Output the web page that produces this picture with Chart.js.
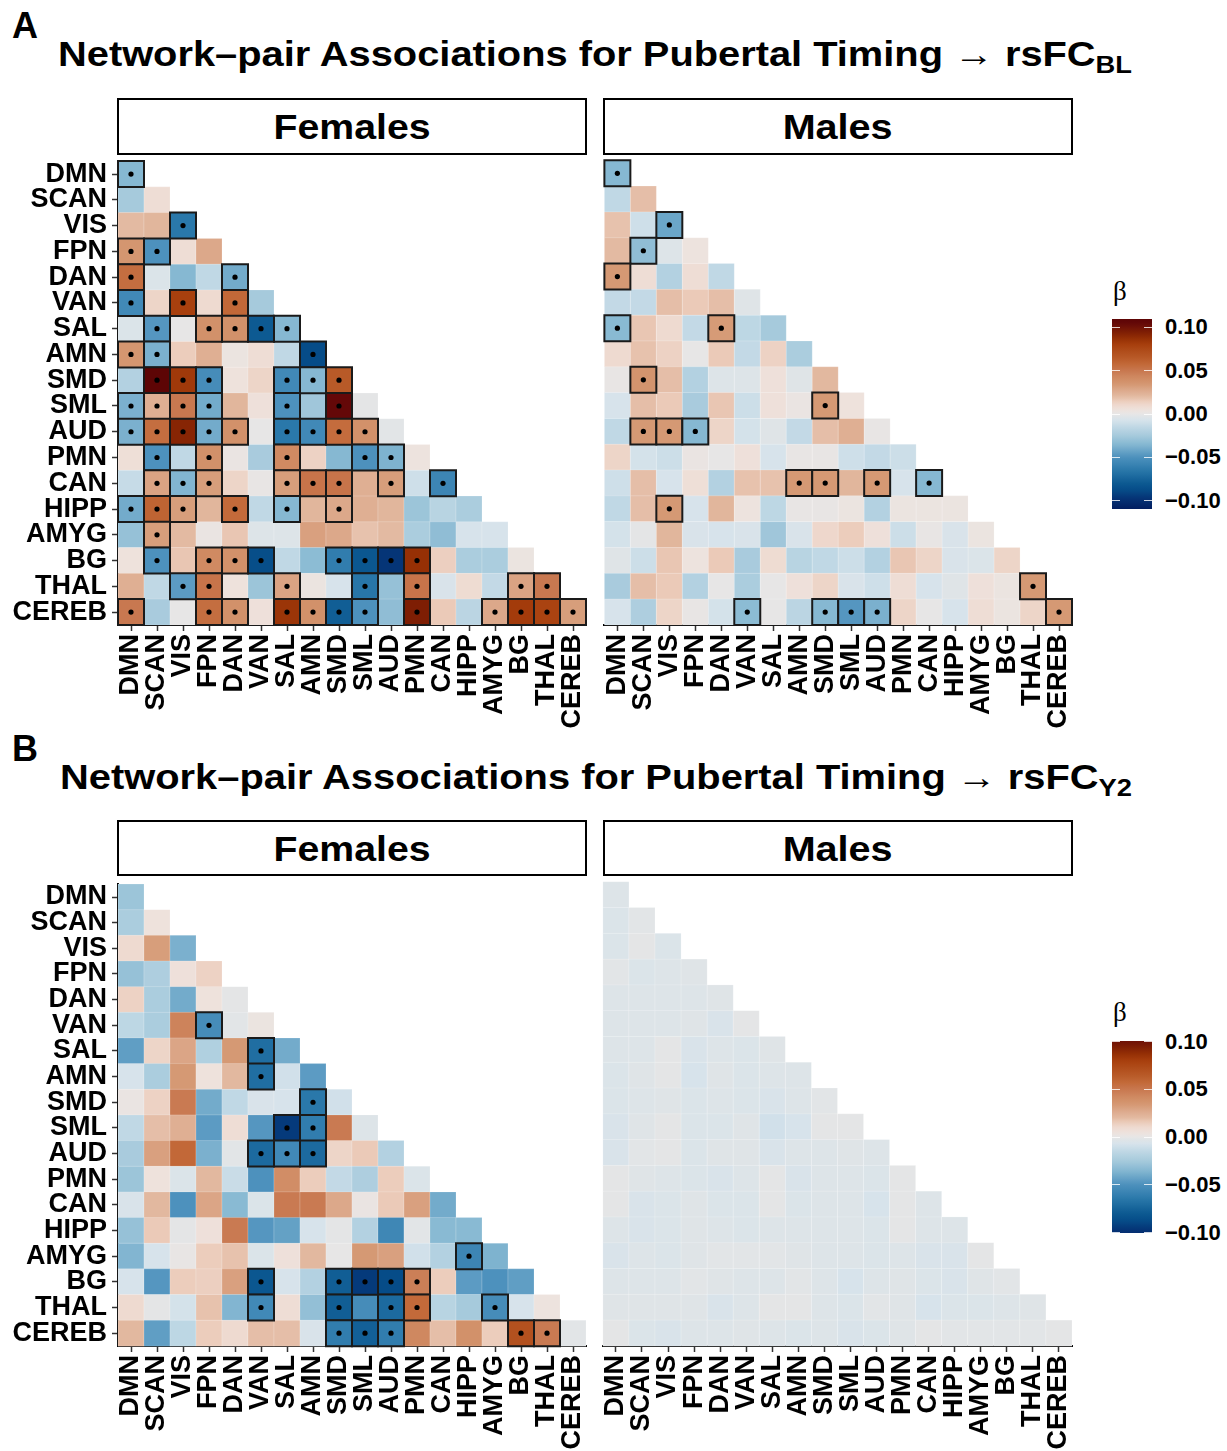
<!DOCTYPE html>
<html>
<head>
<meta charset="utf-8">
<script src="https://cdn.jsdelivr.net/npm/chart.js@4.4.0/dist/chart.umd.min.js"></script>
<style>
  body { margin: 0; width: 1227px; height: 1451px; position: relative; overflow: hidden; background: #fff;
         font-family: "Liberation Sans", Arial, sans-serif; color: #000; }
  .abs { position: absolute; white-space: nowrap; }
  .tag { font-weight: bold; font-size: 36px; line-height: 36px; }
  .title { font-weight: bold; font-size: 35px; line-height: 35px; transform-origin: left center; }
  .title sub { font-size: 24px; vertical-align: -7px; line-height: 0; }
  .strip { border: 2px solid #000; box-sizing: border-box; display: flex; align-items: center; justify-content: center; }
  .strip span { font-weight: bold; font-size: 35px; line-height: 35px; display: inline-block; }
  .beta { font-family: "Liberation Serif", "DejaVu Serif", serif; font-size: 27px; line-height: 26px; }
  .tick { font-weight: bold; font-size: 22px; line-height: 22px; }
  canvas { position: absolute; }
</style>
</head>
<body>
<div class="abs tag" style="left:12px;top:8px">A</div>
<div class="abs title" id="titleA" style="left:58px;top:36px">Network–pair Associations for Pubertal Timing → rsFC<sub>BL</sub></div>
<div class="abs strip" style="left:117px;top:98px;width:470px;height:57px"><span>Females</span></div>
<div class="abs strip" style="left:603px;top:98px;width:470px;height:57px"><span>Males</span></div>

<div class="abs tag" style="left:12px;top:731px">B</div>
<div class="abs title" id="titleB" style="left:60px;top:759px">Network–pair Associations for Pubertal Timing → rsFC<sub>Y2</sub></div>
<div class="abs strip" style="left:117px;top:820px;width:470px;height:56px"><span>Females</span></div>
<div class="abs strip" style="left:603px;top:820px;width:470px;height:56px"><span>Males</span></div>

<canvas id="femBL" width="610" height="600" style="left:0px;top:140px"></canvas>
<canvas id="malBL" width="512" height="600" style="left:584px;top:140px"></canvas>
<canvas id="femY2" width="610" height="588" style="left:0px;top:863px"></canvas>
<canvas id="malY2" width="512" height="588" style="left:584px;top:863px"></canvas>

<script>
const NETWORKS = ['DMN', 'SCAN', 'VIS', 'FPN', 'DAN', 'VAN', 'SAL', 'AMN', 'SMD', 'SML', 'AUD',
                  'PMN', 'CAN', 'HIPP', 'AMYG', 'BG', 'THAL', 'CEREB'];

// lower triangle, row i holds columns 0..i
const FEMALES_BL = [
  [-0.035],
  [-0.025, 0.008],
  [0.020, 0.022, -0.065],
  [0.035, -0.050, 0.008, 0.028],
  [0.055, -0.005, -0.035, -0.015, -0.040],
  [-0.055, 0.012, 0.080, 0.010, 0.058, -0.025],
  [-0.005, -0.048, 0.000, 0.038, 0.038, -0.080, -0.035],
  [0.035, -0.038, 0.015, 0.025, 0.003, 0.008, -0.015, -0.088],
  [-0.020, 0.110, 0.083, -0.053, 0.005, 0.012, -0.055, -0.035, 0.065],
  [-0.038, 0.025, 0.050, -0.040, 0.022, 0.006, -0.050, -0.027, 0.105, -0.001],
  [-0.038, 0.055, 0.092, -0.040, 0.038, 0.000, -0.065, -0.055, 0.056, 0.038, -0.002],
  [0.007, -0.050, -0.015, 0.038, 0.002, -0.024, 0.042, 0.013, -0.035, -0.050, -0.037, 0.004],
  [-0.013, 0.030, -0.036, 0.032, 0.012, 0.001, 0.032, 0.052, 0.052, 0.025, 0.032, -0.010, -0.057],
  [-0.040, 0.060, 0.032, 0.022, 0.057, -0.015, -0.035, 0.022, 0.028, 0.025, 0.022, -0.028, -0.018, -0.023],
  [-0.030, 0.032, 0.020, 0.002, 0.017, -0.004, -0.004, 0.031, 0.028, 0.018, 0.020, -0.023, -0.032, -0.007, -0.007],
  [0.005, -0.050, 0.017, 0.042, 0.038, -0.087, -0.015, -0.033, -0.062, -0.082, -0.097, 0.087, 0.014, -0.023, -0.023, 0.003],
  [0.025, -0.015, -0.046, 0.052, 0.005, -0.028, 0.030, 0.003, -0.007, -0.066, -0.030, 0.052, -0.006, 0.009, -0.014, 0.030, 0.050],
  [0.050, -0.024, 0.000, 0.055, 0.038, 0.006, 0.085, 0.038, -0.078, -0.050, -0.032, 0.095, 0.016, -0.017, 0.028, 0.082, 0.078, 0.032]
];
const MALES_BL = [
  [-0.035],
  [-0.015, 0.019],
  [0.018, -0.010, -0.042],
  [0.020, -0.032, -0.004, 0.004],
  [0.034, 0.008, -0.020, 0.008, -0.015],
  [-0.014, -0.014, 0.019, 0.016, 0.019, -0.003],
  [-0.034, 0.017, 0.010, -0.014, 0.033, -0.016, -0.025],
  [0.010, 0.018, 0.013, 0.000, 0.016, -0.014, 0.013, -0.023],
  [0.001, 0.036, 0.019, -0.020, -0.004, -0.004, 0.006, -0.003, 0.021],
  [-0.007, 0.019, 0.016, -0.024, 0.017, -0.011, 0.006, 0.002, 0.034, 0.005],
  [-0.015, 0.034, 0.034, -0.035, 0.012, -0.008, -0.003, -0.014, 0.019, 0.025, 0.001],
  [0.012, -0.008, -0.011, 0.002, 0.000, 0.006, -0.007, 0.001, 0.001, -0.010, -0.014, -0.011],
  [-0.010, 0.019, -0.007, 0.007, -0.020, 0.018, 0.018, 0.034, 0.034, 0.022, 0.034, -0.007, -0.035],
  [-0.015, 0.019, 0.034, -0.007, 0.022, 0.004, -0.016, 0.001, 0.001, 0.003, -0.020, 0.003, 0.003, 0.003],
  [-0.008, -0.001, 0.022, -0.006, -0.007, -0.006, -0.027, -0.006, 0.011, 0.015, 0.006, -0.011, 0.001, -0.006, 0.003],
  [-0.003, -0.011, 0.017, 0.004, 0.016, -0.024, 0.009, -0.018, -0.015, -0.011, -0.020, 0.017, 0.012, -0.006, -0.005, 0.012],
  [-0.024, 0.019, 0.016, -0.020, 0.000, -0.023, 0.000, 0.006, 0.012, -0.006, -0.010, 0.008, -0.007, -0.003, 0.006, 0.003, 0.034],
  [-0.007, -0.022, 0.012, 0.001, -0.008, -0.033, 0.000, -0.017, -0.035, -0.048, -0.038, 0.012, 0.000, -0.007, 0.008, 0.003, 0.012, 0.034]
];
const FEMALES_Y2 = [
  [-0.028],
  [-0.023, 0.005],
  [0.010, 0.032, -0.038],
  [-0.030, -0.022, 0.006, 0.013],
  [0.013, -0.023, -0.040, 0.005, -0.001],
  [-0.016, -0.023, 0.045, -0.053, -0.002, 0.003],
  [-0.045, 0.012, 0.029, -0.021, 0.034, -0.070, -0.040],
  [-0.007, -0.023, 0.034, 0.005, 0.021, -0.070, -0.009, -0.046],
  [0.002, 0.013, 0.049, -0.040, -0.015, -0.006, -0.007, -0.065, -0.009],
  [-0.015, 0.019, 0.025, -0.046, 0.008, -0.048, -0.095, -0.062, 0.049, -0.004],
  [-0.024, 0.031, 0.058, -0.038, -0.002, -0.072, -0.055, -0.072, 0.012, 0.016, -0.020],
  [-0.028, 0.005, -0.005, 0.021, -0.012, -0.050, 0.040, 0.015, -0.014, -0.022, 0.015, -0.005],
  [-0.006, 0.021, -0.050, 0.029, -0.034, -0.005, 0.049, 0.049, 0.028, 0.002, 0.016, 0.031, -0.040],
  [-0.030, 0.016, -0.001, 0.006, 0.049, -0.048, -0.044, -0.007, -0.001, -0.020, -0.056, -0.002, -0.034, -0.034],
  [-0.036, -0.007, 0.001, 0.015, 0.018, -0.005, 0.006, 0.021, 0.000, 0.034, 0.031, -0.009, -0.020, -0.057, -0.037],
  [-0.007, -0.048, 0.015, 0.014, 0.031, -0.082, -0.007, -0.020, -0.078, -0.095, -0.088, 0.047, 0.015, -0.046, -0.050, -0.045],
  [0.010, -0.001, -0.008, 0.018, -0.036, -0.055, 0.008, -0.031, -0.078, -0.053, -0.072, 0.057, -0.018, -0.025, -0.053, -0.007, 0.004],
  [0.021, -0.045, -0.016, 0.015, 0.010, 0.019, 0.019, -0.006, -0.062, -0.077, -0.062, 0.043, 0.019, 0.038, 0.015, 0.070, 0.049, -0.002]
];
const MALES_Y2 = [
  [-0.004],
  [-0.005, -0.002],
  [-0.005, -0.001, -0.005],
  [-0.002, -0.005, -0.004, -0.003],
  [-0.004, -0.004, -0.004, -0.004, -0.003],
  [-0.004, -0.004, -0.004, -0.003, -0.006, -0.001],
  [-0.004, -0.004, -0.001, -0.006, -0.004, -0.005, -0.003],
  [-0.005, -0.003, -0.001, -0.007, -0.003, -0.005, -0.004, -0.004],
  [-0.005, -0.004, -0.003, -0.005, -0.004, -0.005, -0.006, -0.004, -0.002],
  [-0.006, -0.003, -0.001, -0.005, -0.005, -0.003, -0.009, -0.007, -0.001, -0.001],
  [-0.006, -0.002, -0.001, -0.005, -0.003, -0.003, -0.006, -0.004, -0.004, -0.003, -0.004],
  [-0.001, -0.003, -0.004, -0.005, -0.006, -0.004, -0.001, -0.006, -0.004, -0.004, -0.005, -0.001],
  [-0.001, -0.006, -0.005, -0.003, -0.005, -0.005, -0.001, -0.005, -0.004, -0.004, -0.007, -0.001, -0.004],
  [-0.004, -0.006, -0.005, -0.003, -0.004, -0.005, -0.004, -0.004, -0.004, -0.004, -0.005, -0.001, -0.004, -0.004],
  [-0.006, -0.004, -0.005, -0.003, -0.002, -0.002, -0.002, -0.003, -0.004, -0.004, -0.005, -0.004, -0.006, -0.006, -0.001],
  [-0.004, -0.004, -0.004, -0.002, -0.003, -0.004, -0.004, -0.002, -0.004, -0.007, -0.004, -0.003, -0.005, -0.006, -0.003, -0.002],
  [-0.003, -0.003, -0.003, -0.003, -0.006, -0.004, -0.001, -0.001, -0.004, -0.005, -0.002, -0.003, -0.007, -0.005, -0.005, -0.004, -0.003],
  [-0.001, -0.005, -0.006, -0.004, -0.004, -0.003, -0.004, -0.005, -0.004, -0.006, -0.005, -0.003, -0.001, -0.002, -0.002, -0.002, -0.002, -0.001]
];

// significant cells: column indices per row
const SIG_FEMALES_BL = [[0], [], [2], [0, 1], [0, 4], [0, 2, 4], [1, 3, 4, 5, 6], [0, 1, 7], [1, 2, 3, 6, 7, 8],
  [0, 1, 2, 3, 6, 8], [0, 1, 2, 3, 4, 6, 7, 8, 9], [1, 3, 6, 9, 10], [1, 2, 3, 6, 7, 8, 10, 12], [0, 1, 2, 4, 6, 8],
  [1], [1, 3, 4, 5, 8, 9, 10, 11], [2, 3, 6, 9, 11, 15, 16], [0, 3, 4, 6, 7, 8, 9, 11, 14, 15, 16, 17]];
const SIG_MALES_BL = [[0], [], [2], [1], [0], [], [0, 4], [], [1], [8], [1, 2, 3], [], [7, 8, 10, 12], [2],
  [], [], [16], [5, 8, 9, 10, 17]];
const SIG_FEMALES_Y2 = [[], [], [], [], [], [3], [5], [5], [7], [6, 7], [5, 6, 7], [], [], [], [13],
  [5, 8, 9, 10, 11], [5, 8, 10, 11, 14], [8, 9, 10, 15, 16]];
const SIG_MALES_Y2 = [[], [], [], [], [], [], [], [], [], [], [], [], [], [], [], [], [], []];

const LEGEND_TICKS = [0.10, 0.05, 0.00, -0.05, -0.10];
const LEGEND_LABELS = ['0.10', '0.05', '0.00', '\u22120.05', '\u22120.10'];

// diverging palette (blue - light grey - brown)
const STOPS = [
  [-0.112, '#021A5C'], [-0.097, '#053577'], [-0.088, '#064C88'], [-0.080, '#0D5A92'], [-0.065, '#2A78AA'],
  [-0.050, '#4D91BD'], [-0.035, '#86B8D2'], [-0.025, '#A6CADC'], [-0.015, '#C0D8E5'], [-0.007, '#D7E3EB'],
  [-0.003, '#DFE4E7'], [0.000, '#E7E6E6'], [0.005, '#EEE2DC'], [0.010, '#EEDAD0'], [0.016, '#EBCAB8'],
  [0.020, '#E3BAA2'], [0.028, '#DCA88A'], [0.035, '#D49670'], [0.042, '#D08A62'], [0.050, '#C87850'],
  [0.057, '#C36A3A'], [0.065, '#B85A28'], [0.080, '#A8400E'], [0.087, '#963005'], [0.095, '#7E1E04'],
  [0.105, '#640808'], [0.112, '#5A0404']
];

function hexRgb(h) { return [1, 3, 5].map(i => parseInt(h.slice(i, i + 2), 16)); }
function colour(v) {
  if (v <= STOPS[0][0]) return STOPS[0][1];
  for (let k = 1; k < STOPS.length; k++) {
    if (v <= STOPS[k][0]) {
      const t = (v - STOPS[k - 1][0]) / (STOPS[k][0] - STOPS[k - 1][0]);
      const a = hexRgb(STOPS[k - 1][1]), b = hexRgb(STOPS[k][1]);
      return 'rgb(' + a.map((c, i) => Math.round(c + (b[i] - c) * t)).join(',') + ')';
    }
  }
  return STOPS[STOPS.length - 1][1];
}

function cellRadius(ctx) {
  const a = ctx.chart.chartArea;
  const side = a ? (a.right - a.left) / NETWORKS.length : 26;
  return side / Math.SQRT2;
}
function cellFill(ctx) { return ctx.raw ? colour(ctx.raw.v) : '#fff'; }

function heatmap(id, values, sig, showY, xHeight) {
  const plain = [], marked = [];
  values.forEach((row, i) => row.forEach((v, j) => {
    const cell = {x: NETWORKS[j], y: NETWORKS[i], v: v};
    if (sig[i].indexOf(j) >= 0) marked.push(cell); else plain.push(cell);
  }));
  const font = {family: 'Liberation Sans', weight: 'bold', size: 27};
  return new Chart(id, {
    type: 'scatter',
    data: {
      datasets: [
        {data: plain, order: 3, clip: 4, pointStyle: 'rect', pointRadius: cellRadius,
         pointBackgroundColor: cellFill, pointBorderColor: 'rgba(255,255,255,0.35)', pointBorderWidth: 0.5},
        {data: marked, order: 2, clip: 4, pointStyle: 'rect', pointRadius: cellRadius,
         pointBackgroundColor: cellFill, pointBorderColor: '#1a1a1a', pointBorderWidth: 2},
        {data: marked, order: 1, clip: 4, pointStyle: 'circle', pointRadius: 2.6,
         pointBackgroundColor: '#000', pointBorderWidth: 0}
      ]
    },
    options: {
      responsive: false,
      animation: false,
      events: [],
      layout: {padding: {left: 0, right: 24, top: 18, bottom: 0}},
      plugins: {legend: {display: false}, tooltip: {enabled: false}},
      scales: {
        x: {
          type: 'category', labels: NETWORKS, offset: true,
          grid: {display: true, drawOnChartArea: false, drawTicks: true, tickLength: 6,
                 tickColor: '#333', tickWidth: 1.5, offset: false},
          border: {display: true, color: '#000', width: 2},
          ticks: {autoSkip: false, minRotation: 90, maxRotation: 90, color: '#000', font: font, padding: 3},
          afterFit: s => { s.height = xHeight; }
        },
        y: {
          type: 'category', labels: NETWORKS, offset: true, display: showY,
          grid: {display: true, drawOnChartArea: false, drawTicks: true, tickLength: 6,
                 tickColor: '#333', tickWidth: 1.5, offset: false},
          border: {display: true, color: '#000', width: 2},
          ticks: {autoSkip: false, color: '#000', font: font, padding: 5},
          afterFit: s => { s.width = showY ? 118 : 0; }
        }
      }
    }
  });
}

heatmap('femBL', FEMALES_BL, SIG_FEMALES_BL, true, 115);
heatmap('malBL', MALES_BL, SIG_MALES_BL, false, 115);
heatmap('femY2', FEMALES_Y2, SIG_FEMALES_Y2, true, 105);
heatmap('malY2', MALES_Y2, SIG_MALES_Y2, false, 105);

// colour bars
function colourBar(zeroY, pxPerUnit, limit, betaY) {
  const top = zeroY - limit * pxPerUnit, h = 2 * limit * pxPerUnit;
  const stops = [];
  for (let k = 0; k <= 60; k++) {
    const v = limit - (2 * limit) * k / 60;
    stops.push(colour(v) + ' ' + (k / 60 * 100).toFixed(2) + '%');
  }
  const bar = document.createElement('div');
  bar.className = 'abs';
  bar.style.cssText = 'left:1112px;top:' + top + 'px;width:40px;height:' + h + 'px;background:linear-gradient(to bottom,' + stops.join(',') + ')';
  document.body.appendChild(bar);
  LEGEND_TICKS.forEach((t, i) => {
    const y = zeroY - t * pxPerUnit;
    [1112, 1144].forEach(x => {
      const m = document.createElement('div');
      m.className = 'abs';
      m.style.cssText = 'left:' + x + 'px;top:' + (y - 0.5) + 'px;width:8px;height:1px;background:rgba(255,255,255,0.8)';
      document.body.appendChild(m);
    });
    const lab = document.createElement('div');
    lab.className = 'abs tick';
    lab.style.left = '1165px';
    lab.style.top = (y - 11) + 'px';
    lab.textContent = LEGEND_LABELS[i];
    document.body.appendChild(lab);
  });
  const beta = document.createElement('div');
  beta.className = 'abs beta';
  beta.style.left = '1113px';
  beta.style.top = (betaY - 13) + 'px';
  beta.textContent = '\u03B2';
  document.body.appendChild(beta);
}
colourBar(414, 866, 0.11, 291);
colourBar(1137, 955, 0.101, 1012);

// stretch text to the widths of the original
function fitWidth(el, target) {
  const w = el.getBoundingClientRect().width;
  el.style.transform = 'scaleX(' + (target / w) + ')';
}
fitWidth(document.getElementById('titleA'), 1074);
fitWidth(document.getElementById('titleB'), 1072);
document.querySelectorAll('.strip span').forEach(s => {
  fitWidth(s, s.textContent === 'Females' ? 157 : 110);
});
</script>
</body>
</html>
